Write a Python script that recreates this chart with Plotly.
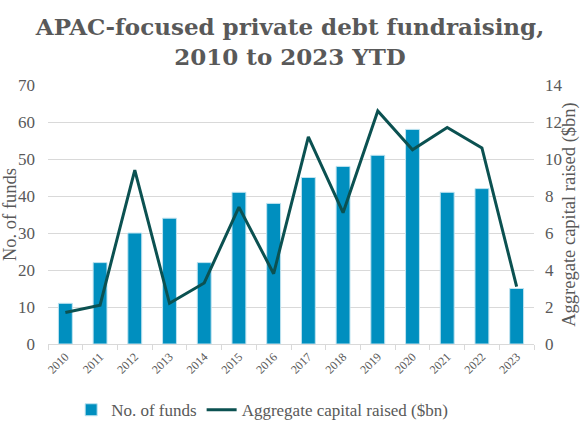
import plotly.graph_objects as go

anos = [str(a) for a in range(2010, 2024)]
num_fundos = [11, 22, 30, 34, 22, 41, 38, 45, 48, 51, 58, 41, 42, 15]
capital_bn = [1.7, 2.1, 9.4, 2.2, 3.3, 7.4, 3.8, 11.2, 7.1, 12.6, 10.5, 11.7, 10.6, 3.1]

fonte = "Georgia, 'Liberation Serif', serif"
cinza = "#595959"

fig = go.Figure()
fig.add_trace(go.Bar(
    x=anos, y=num_fundos, name="No. of funds",
    marker=dict(color="#008fbf", line=dict(color="#bfe3f0", width=1)),
    width=0.4,
))
fig.add_trace(go.Scatter(
    x=anos, y=capital_bn, name="Aggregate capital raised ($bn)",
    mode="lines", line=dict(color="#0b5151", width=3), yaxis="y2",
))

fig.update_layout(
    width=580, height=435,
    paper_bgcolor="white", plot_bgcolor="white",
    font=dict(family=fonte, color=cinza, size=15),
    title=dict(
        text="<b>APAC-focused private debt fundraising,<br>2010 to 2023 YTD</b>",
        x=0.5, xanchor="center", y=0.919, yanchor="top",
        font=dict(size=23, color=cinza, family="'DejaVu Serif', serif"),
    ),
    margin=dict(l=48, r=46, t=85, b=91, autoexpand=False),
    showlegend=True,
    legend=dict(
        orientation="h", xref="container", x=0.452, xanchor="center",
        yref="container", y=0.057, yanchor="middle",
        font=dict(size=17), traceorder="normal",
    ),
    bargap=0.6,
    xaxis=dict(
        type="category", tickangle=-45, tickfont=dict(size=12),
        showline=True, linecolor="#d9d9d9", ticks="outside",
        tickson="boundaries", tickcolor="#d9d9d9", ticklen=5,
        showgrid=False, automargin=False,
    ),
    yaxis=dict(
        range=[0, 70], dtick=10, showgrid=True, gridcolor="#d9d9d9",
        zeroline=False, automargin=False, tickfont=dict(size=17),
        ticklabelstandoff=12,
        title=dict(text="No. of funds", standoff=8, font=dict(size=18.5)),
    ),
    yaxis2=dict(
        range=[0, 14], dtick=2, overlaying="y", side="right", showgrid=False,
        zeroline=False, automargin=False, tickfont=dict(size=17),
        ticklabelstandoff=10,
        title=dict(text="Aggregate capital raised ($bn)", standoff=12, font=dict(size=18.5)),
    ),
)

# sem a margem padrao do body, para a figura ficar no canto da janela
fig.write_html("out.html", config={"displayModeBar": False},
               post_script="document.body.style.margin='0';")
